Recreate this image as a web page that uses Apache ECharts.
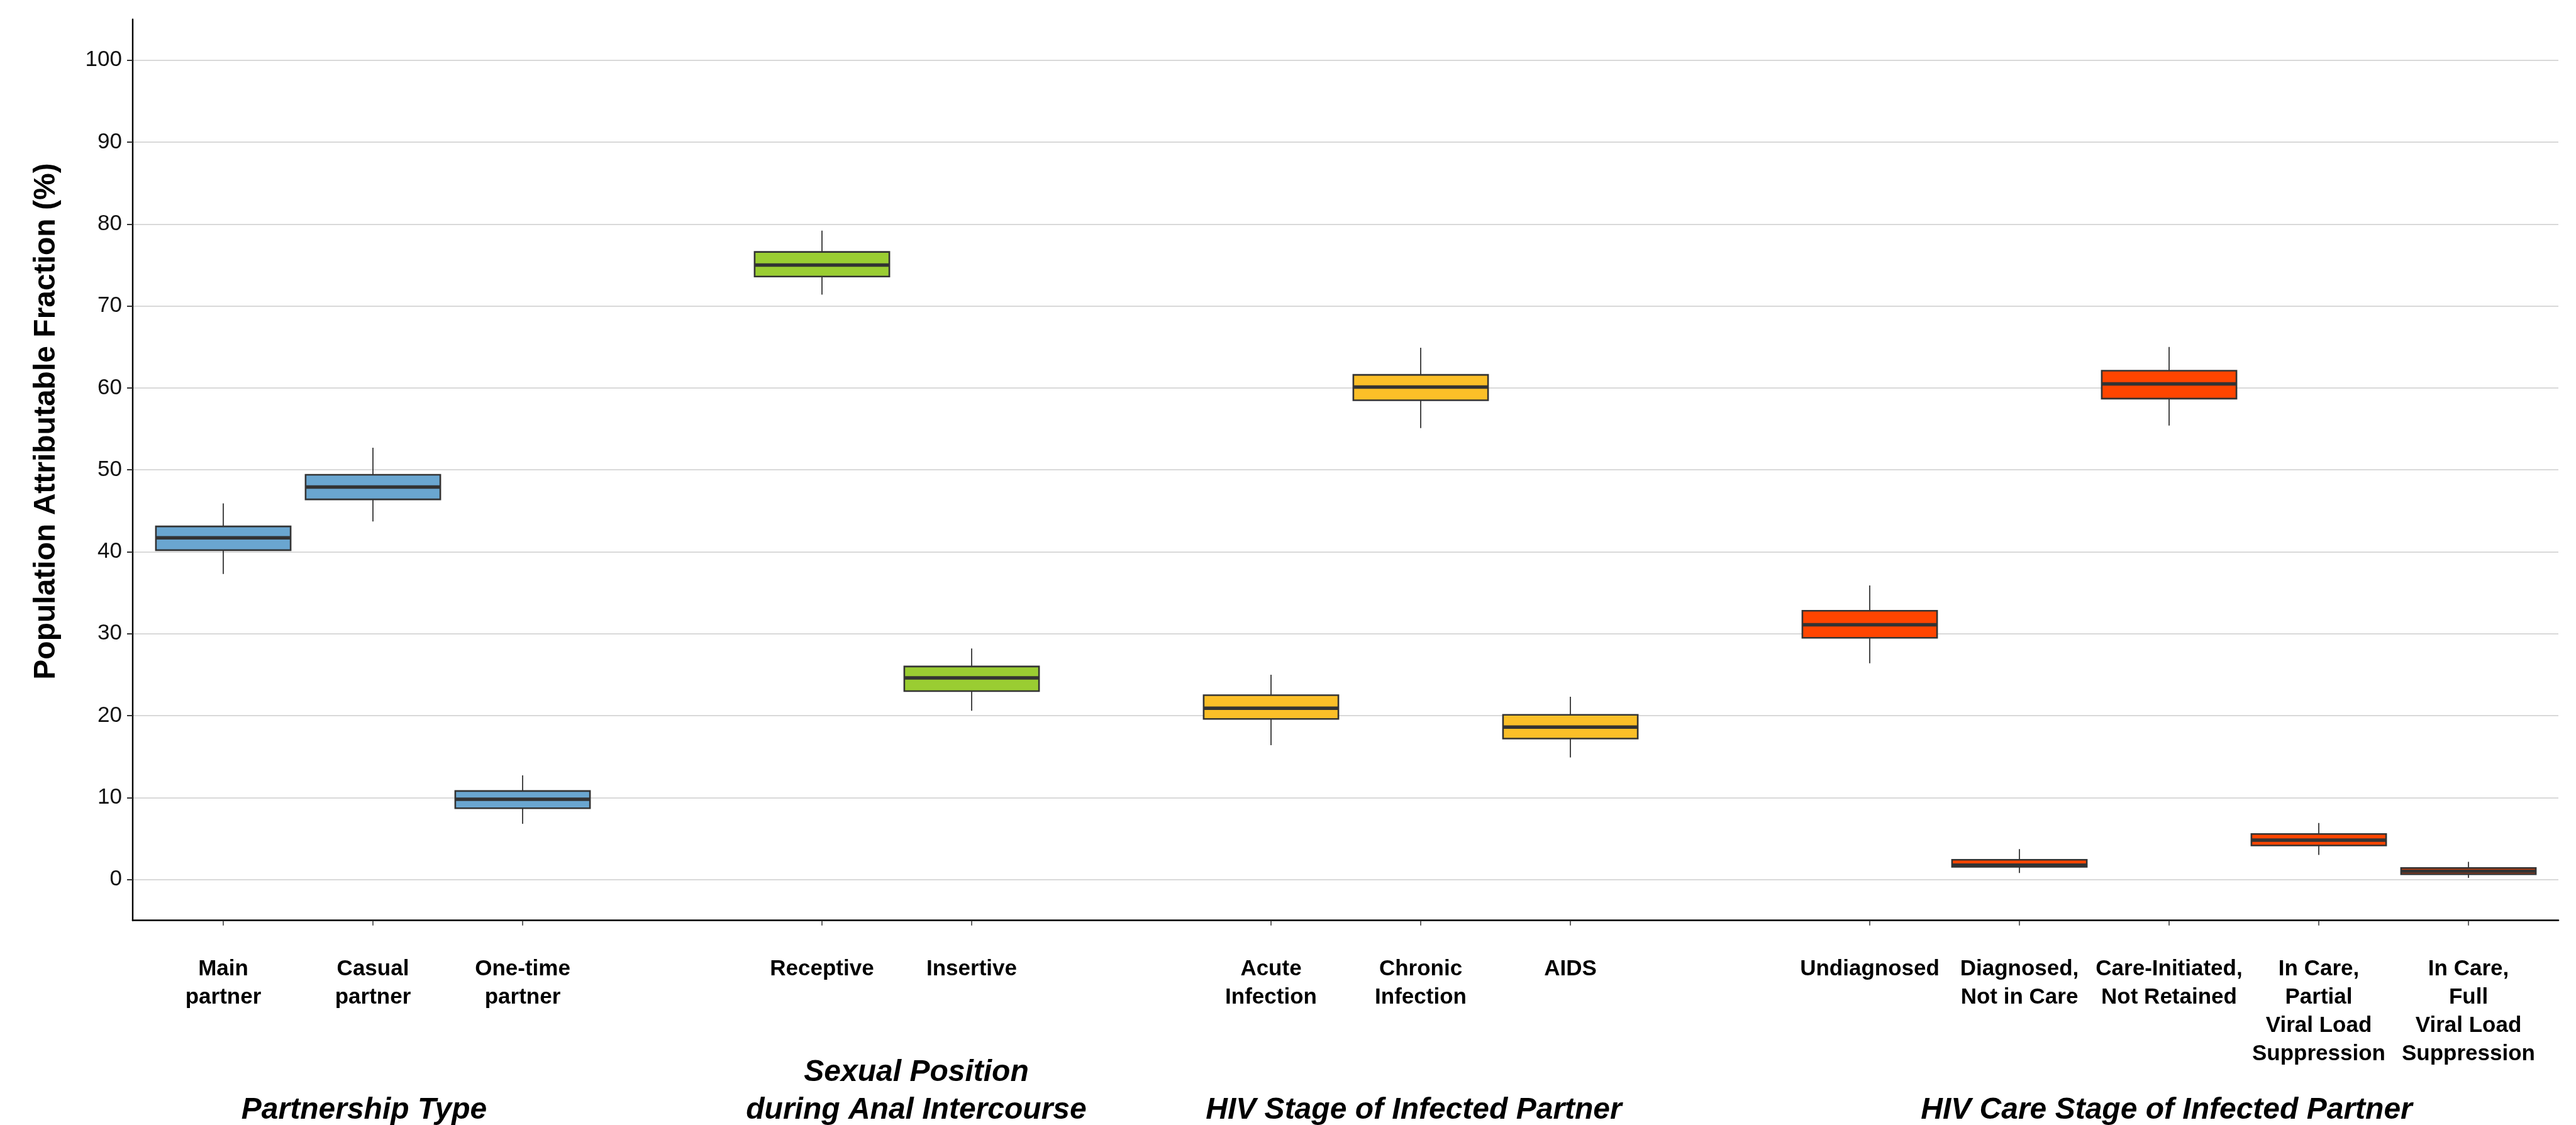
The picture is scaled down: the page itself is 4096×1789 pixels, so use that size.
<!DOCTYPE html>
<html>
<head>
<meta charset="utf-8">
<script src="https://cdn.jsdelivr.net/npm/echarts@6/dist/echarts.min.js"></script>
<style>
  html, body { margin: 0; padding: 0; background: #ffffff; }
  #chart { width: 4096px; height: 1789px; }
</style>
</head>
<body>
<div id="chart"></div>
<script>
// categories along x (blank entries are the gaps between groups)
const categories = [
    'Main\npartner', 'Casual\npartner', 'One-time\npartner', '',
    'Receptive', 'Insertive', '',
    'Acute\nInfection', 'Chronic\nInfection', 'AIDS', '',
    'Undiagnosed', 'Diagnosed,\nNot in Care', 'Care-Initiated,\nNot Retained',
    'In Care,\nPartial\nViral Load\nSuppression', 'In Care,\nFull\nViral Load\nSuppression'
];
// which group each category belongs to (-1 = gap)
const groupIndex = [0, 0, 0, -1, 1, 1, -1, 2, 2, 2, -1, 3, 3, 3, 3, 3];

// box statistics (%), null for gaps
const mins    = [37.3, 43.7,  6.8, null, 71.4, 20.6, null, 16.4, 55.1, 14.9, null, 26.4, 0.8, 55.4, 3.0, 0.2];
const q1s     = [40.2, 46.4,  8.7, null, 73.6, 23.0, null, 19.6, 58.5, 17.2, null, 29.5, 1.55, 58.7, 4.15, 0.65];
const medians = [41.7, 47.9,  9.8, null, 75.0, 24.6, null, 20.9, 60.1, 18.6, null, 31.1, 1.75, 60.5, 4.8, 1.0];
const q3s     = [43.1, 49.4, 10.8, null, 76.6, 26.0, null, 22.5, 61.6, 20.1, null, 32.8, 2.4, 62.1, 5.55, 1.4];
const maxs    = [45.9, 52.7, 12.7, null, 79.2, 28.2, null, 25.0, 64.9, 22.3, null, 35.9, 3.7, 65.0, 6.9, 2.15];

const groupNames = [
    'Partnership Type',
    'Sexual Position\nduring Anal Intercourse',
    'HIV Stage of Infected Partner',
    'HIV Care Stage of Infected Partner'
];
const groupColors = ['#6aa6d0', '#9acd32', '#fbbf28', '#ff4500'];

const yTicks = [0, 10, 20, 30, 40, 50, 60, 70, 80, 90, 100];

const chart = echarts.init(document.getElementById('chart'), null, { renderer: 'canvas' });

function makeRenderItem(color) {
    return function (params, api) {
        const x = api.value(0);
        const pMin = api.coord([x, api.value(1)]);
        const pQ1 = api.coord([x, api.value(2)]);
        const pMed = api.coord([x, api.value(3)]);
        const pQ3 = api.coord([x, api.value(4)]);
        const pMax = api.coord([x, api.value(5)]);
        const half = api.size([1, 0])[0] * 0.45;
        return {
            type: 'group',
            children: [
                {
                    type: 'line',
                    shape: { x1: pMin[0], y1: pMin[1], x2: pMax[0], y2: pMax[1] },
                    style: { stroke: '#333333', lineWidth: 1.8 }
                },
                {
                    type: 'rect',
                    shape: { x: pQ3[0] - half, y: pQ3[1], width: half * 2, height: pQ1[1] - pQ3[1] },
                    style: { fill: color, stroke: '#333333', lineWidth: 2.6 }
                },
                {
                    type: 'line',
                    shape: { x1: pMed[0] - half, y1: pMed[1], x2: pMed[0] + half, y2: pMed[1] },
                    style: { stroke: '#333333', lineWidth: 5.5 }
                }
            ]
        };
    };
}

const series = groupColors.map((color, g) => {
    const data = [];
    categories.forEach((c, i) => {
        if (groupIndex[i] === g) {
            data.push([i, mins[i], q1s[i], medians[i], q3s[i], maxs[i]]);
        }
    });
    return {
        type: 'custom',
        xAxisIndex: 1,
        yAxisIndex: 1,
        renderItem: makeRenderItem(color),
        encode: { x: 0, y: [1, 2, 3, 4, 5] },
        data: data,
        silent: true
    };
});

// group titles under the axis labels
const titleX = [579, 1457, 2248, 3445];
const graphicTexts = groupNames.map((name, g) => ({
    type: 'text',
    x: titleX[g],
    y: name.includes('\n') ? 1736 : 1766,
    style: {
        text: name,
        font: 'italic bold 48px "Liberation Sans", Arial, sans-serif',
        lineHeight: 60,
        fill: '#000000',
        textAlign: 'center',
        textVerticalAlign: 'middle'
    }
}));

graphicTexts.push({
    type: 'text',
    x: 74,
    y: 670,
    rotation: Math.PI / 2,
    style: {
        text: 'Population Attributable Fraction (%)',
        font: 'bold 48px "Liberation Sans", Arial, sans-serif',
        fill: '#000000',
        textAlign: 'center',
        textVerticalAlign: 'middle'
    }
});

const option = {
    backgroundColor: '#ffffff',
    animation: false,
    grid: [
        { left: 211, right: 28, top: 30.7, bottom: 325.3 },
        { left: 236, right: 52, top: 30.7, bottom: 325.3 }
    ],
    xAxis: [
        {
            type: 'value',
            gridIndex: 0,
            min: 0,
            max: 1,
            axisLine: { show: true, onZero: false, lineStyle: { color: '#000000', width: 2.6 } },
            axisTick: { show: false },
            axisLabel: { show: false },
            splitLine: { show: false }
        },
        {
            type: 'category',
            gridIndex: 1,
            position: 'bottom',
            data: categories,
            boundaryGap: true,
            axisLine: { show: true, onZero: false, lineStyle: { color: 'rgba(0,0,0,0)' } },
            axisTick: {
                show: true,
                alignWithLabel: true,
                length: 8,
                interval: (index, value) => value !== '',
                lineStyle: { color: '#333333', width: 1.5 }
            },
            axisLabel: {
                interval: 0,
                margin: 55,
                color: '#000000',
                fontFamily: '"Liberation Sans", Arial, sans-serif',
                fontWeight: 'bold',
                fontSize: 35,
                lineHeight: 45
            },
            splitLine: { show: false }
        }
    ],
    yAxis: [
        {
            type: 'value',
            gridIndex: 0,
            min: -5,
            max: 105,
            interval: 5,
            axisLine: { show: true, onZero: false, lineStyle: { color: '#000000', width: 2.4 } },
            axisTick: {
                show: true,
                length: 9,
                customValues: yTicks,
                lineStyle: { color: '#333333', width: 2 }
            },
            axisLabel: {
                customValues: yTicks,
                margin: 17,
                color: '#111111',
                fontFamily: '"Liberation Sans", Arial, sans-serif',
                fontSize: 35
            },
            splitLine: { show: true, lineStyle: { color: '#d9d9d9', width: 2 } }
        },
        {
            type: 'value',
            gridIndex: 1,
            min: -5,
            max: 105,
            axisLine: { show: false, onZero: false },
            axisTick: { show: false },
            axisLabel: { show: false },
            splitLine: { show: false }
        }
    ],
    graphic: graphicTexts,
    series: series
};

chart.setOption(option);
</script>
</body>
</html>
